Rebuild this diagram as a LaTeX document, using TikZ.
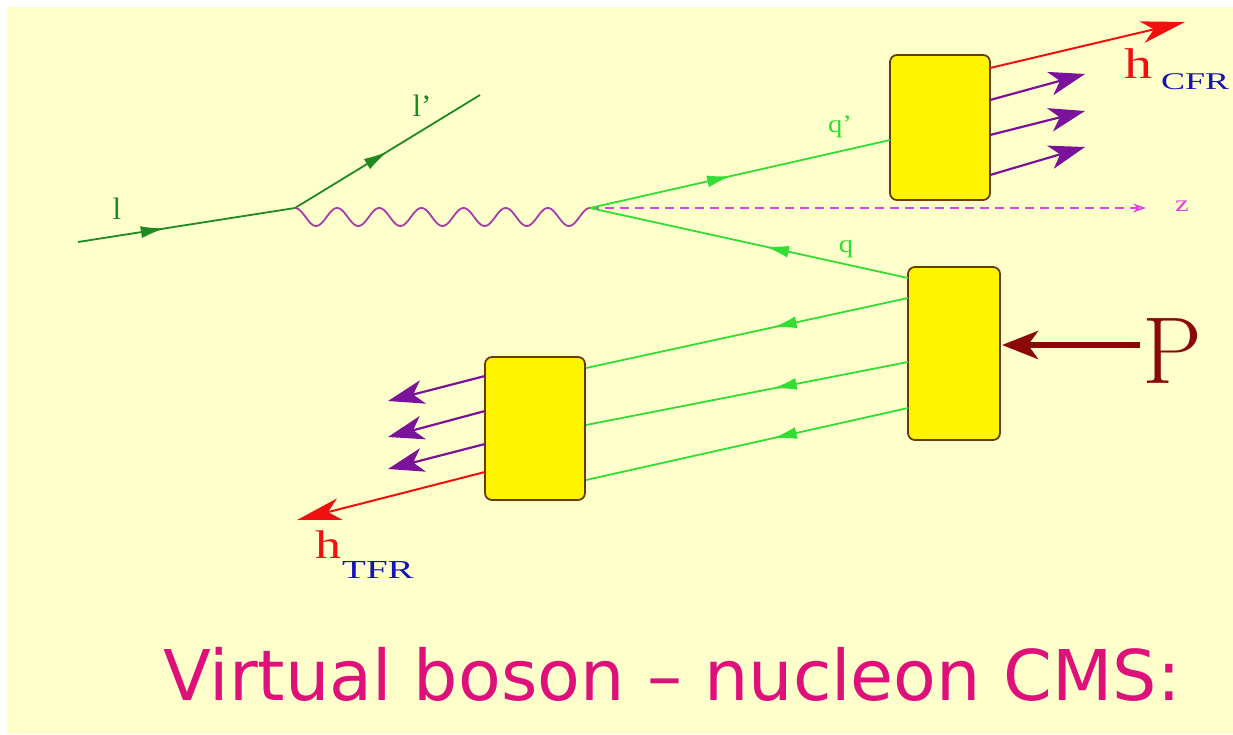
\documentclass[tikz,border=0pt]{standalone}
\usepackage{fontspec}
\newfontfamily\capfont{DejaVu Sans}
\newfontfamily\lblfont{Liberation Serif}
\usetikzlibrary{arrows.meta,decorations.markings}
\definecolor{bgyellow}{HTML}{FFFFCC}
\definecolor{darkgreen}{HTML}{1F8A1F}
\definecolor{lightgreen}{HTML}{33DD33}
\definecolor{photonc}{HTML}{A83CA8}
\definecolor{zaxis}{HTML}{E040E0}
\definecolor{boxyellow}{HTML}{FFF500}
\definecolor{boxborder}{HTML}{6B3A0A}
\definecolor{hadpurple}{HTML}{7A129A}
\definecolor{hred}{HTML}{F01010}
\definecolor{subblue}{HTML}{1414B4}
\definecolor{pred}{HTML}{8A0808}
\definecolor{capc}{HTML}{E0107A}
\begin{document}
\begin{tikzpicture}[x=1pt,y=-1pt,
  box/.style={draw=boxborder,fill=boxyellow,line width=1.8pt,rounded corners=7pt,inner sep=0pt},
  midarrow/.style={postaction={decorate},decoration={markings,
     mark=at position #1 with {\arrow{Latex[length=24pt,width=12pt]}}}},
  lepton/.style={draw=darkgreen,line width=1.8pt},
  quark/.style={draw=lightgreen,line width=1.8pt},
  photon/.style={draw=photonc,line width=1.8pt},
  hadron/.style={draw=hadpurple,line width=2.2pt,-{Stealth[length=36pt,width=24pt,inset=10pt]}},
  leading/.style={draw=hred,line width=2pt,-{Stealth[length=44pt,width=22pt,inset=12pt]}},
  lbl/.style={inner sep=0pt,font=\lblfont\fontsize{25}{28}\selectfont}
]
\useasboundingbox (0,0) rectangle (1233,734);
\fill[white] (0,0) rectangle (1233,734);
\fill[bgyellow] (7,7) rectangle (1233,734);

% boxes
\node[box,minimum width=100pt,minimum height=145pt] (U) at (940,127.5) {};
\node[box,minimum width=92pt,minimum height=173pt] (R) at (954,353.5) {};
\node[box,minimum width=100pt,minimum height=143pt] (L) at (535,428.5) {};

% vertices
\coordinate (lin) at (78,242);
\coordinate (V1) at (295,208);
\coordinate (lout) at (480,95);
\coordinate (V2) at (590,208);
\coordinate (zend) at (1146,208);

% points on box edges
\coordinate (Uin) at (890,140);
\coordinate (Ua) at (990,68);
\coordinate (Ub) at (990,100);
\coordinate (Uc) at (990,135);
\coordinate (Ud) at (990,175);
\coordinate (Rq) at (908,278);
\coordinate (Ra) at (908,298);
\coordinate (Rb) at (908,362);
\coordinate (Rc) at (908,408);
\coordinate (Rp) at (1002,345);
\coordinate (La) at (586,368);
\coordinate (Lb) at (586,425);
\coordinate (Lc) at (586,480);
\coordinate (Ld) at (485,376);
\coordinate (Le) at (485,411);
\coordinate (Lf) at (485,444);
\coordinate (Lg) at (485,472);

% free ends
\coordinate (hC) at (1185,22);
\coordinate (pa) at (1085,74);
\coordinate (pb) at (1085,111);
\coordinate (pc) at (1085,147);
\coordinate (pd) at (388,401);
\coordinate (pe) at (388,437);
\coordinate (pf) at (388,469);
\coordinate (hT) at (297,520);
\coordinate (Pst) at (1140,345);

% leptons
\draw[lepton,midarrow=0.4] (lin) -- (V1);
\draw[lepton,midarrow=0.5] (V1) -- (lout);
\node[lbl,text=darkgreen,font=\lblfont\fontsize{31}{34}\selectfont] (l1) at (117,209) {l};
\node[lbl,text=darkgreen,font=\lblfont\fontsize{31}{34}\selectfont] (l2) at (422,106) {l’};

% photon
\draw[photon] plot[domain=0:295,samples=300,smooth] ({295+\x},{217-9*cos(\x*8.5424)});

% z axis
\draw[zaxis,line width=1.5pt,dash pattern=on 9pt off 6pt,-{Stealth[open,length=13pt,width=9pt]}] (V2) -- (zend);
\node[lbl,text=zaxis,font=\lblfont\fontsize{23}{26}\selectfont] (z) at (1182,206) {\scalebox{1.35}[1]{z}};

% quarks
\draw[quark,midarrow=0.47] (V2) -- (Uin);
\node[lbl,text=lightgreen] (qp) at (840,127) {\scalebox{1.15}[1]{q’}};
\draw[quark,midarrow=0.45] (Rq) -- (V2);
\node[lbl,text=lightgreen] (q) at (846,249) {\scalebox{1.15}[1]{q}};

\draw[quark,midarrow=0.42] (Ra) -- (La);
\draw[quark,midarrow=0.42] (Rb) -- (Lb);
\draw[quark,midarrow=0.42] (Rc) -- (Lc);

% current fragmentation hadrons
\draw[leading] (Ua) -- (hC);
\draw[hadron] (Ub) -- (pa);
\draw[hadron] (Uc) -- (pb);
\draw[hadron] (Ud) -- (pc);
\node[inner sep=0pt,anchor=base west,text=hred,font=\lblfont\fontsize{43}{46}\selectfont] (hc) at (1124,78) {\scalebox{1.3}[1]{h}};
\node[inner sep=0pt,anchor=base west,text=subblue,font=\lblfont\fontsize{24}{27}\selectfont] (cfr) at (1161,89) {\scalebox{1.5}[1]{CFR}};

% target fragmentation hadrons
\draw[leading] (Lg) -- (hT);
\draw[hadron] (Ld) -- (pd);
\draw[hadron] (Le) -- (pe);
\draw[hadron] (Lf) -- (pf);
\node[inner sep=0pt,anchor=base west,text=hred,font=\lblfont\fontsize{40}{44}\selectfont] (ht) at (315,558) {\scalebox{1.3}[1]{h}};
\node[inner sep=0pt,anchor=base west,text=subblue,font=\lblfont\fontsize{26}{28}\selectfont] (tfr) at (342,578) {\scalebox{1.5}[1]{TFR}};

% proton
\draw[pred,line width=6pt,-{Stealth[length=36pt,width=28pt,inset=10pt]}] (Pst) -- (Rp);
\node[inner sep=0pt,anchor=base,text=pred,font=\fontsize{95}{100}\selectfont] (P) at (1172,383) {P};

% caption
\node[inner sep=0pt,anchor=base west,text=capc] (cap) at (163,700)
  {\resizebox{1017pt}{!}{\capfont Virtual boson – nucleon CMS:}};
\end{tikzpicture}
\end{document}
